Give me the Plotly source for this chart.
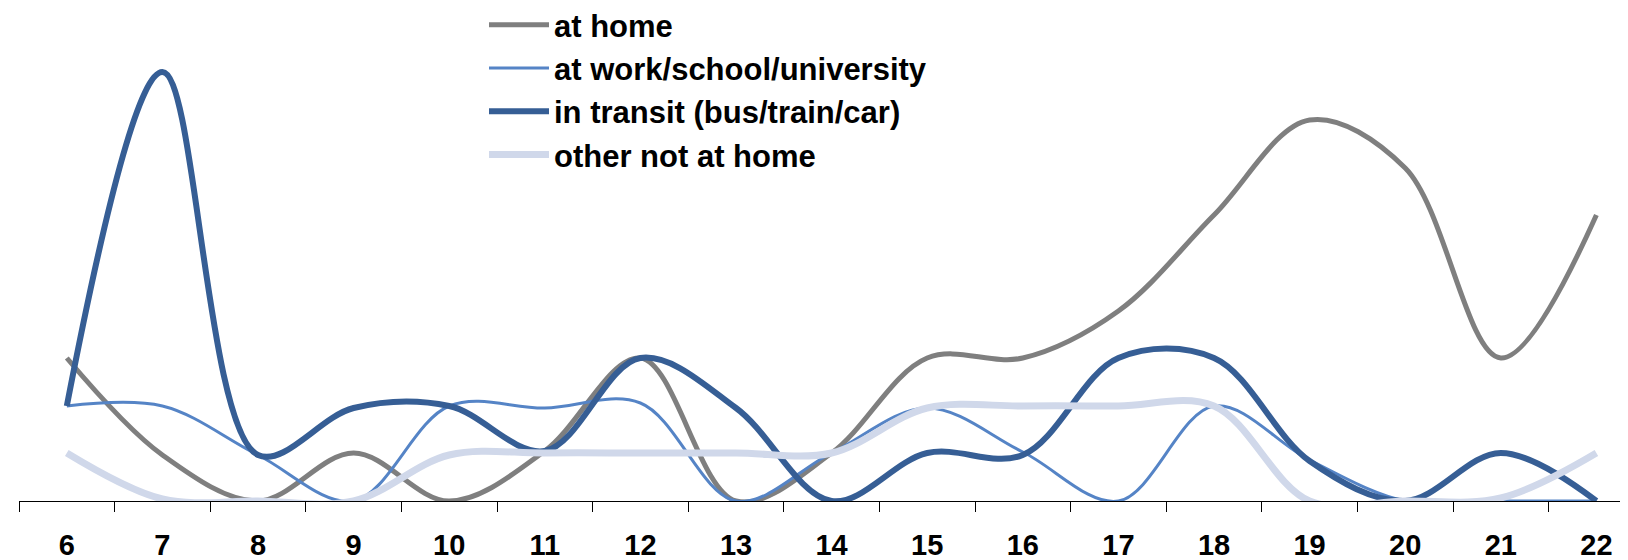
import plotly.graph_objects as go

hours = list(range(6, 23))
tick_labels = [str(h) for h in hours]

at_home = [14.3, 4.6, 0.0, 4.8, 0.0, 5.0, 14.3, 0.0, 4.8, 14.3, 14.3, 19.0, 28.6, 38.1, 33.3, 14.3, 28.6]
at_work = [9.5, 9.5, 4.6, 0.0, 9.5, 9.3, 9.8, 0.0, 4.8, 9.3, 4.9, 0.0, 9.5, 4.1, 0.0, 0.0, 0.0]
in_transit = [9.5, 42.9, 4.6, 9.3, 9.5, 5.0, 14.3, 9.3, 0.0, 4.8, 4.6, 14.3, 14.3, 4.0, 0.0, 4.8, 0.0]
other = [4.8, 0.2, 0.0, 0.0, 4.6, 4.8, 4.8, 4.8, 4.8, 9.3, 9.5, 9.5, 9.5, 0.0, 0.0, 0.3, 4.8]

series = [
    ("at home", at_home, "#7f7f7f", 5),
    ("at work/school/university", at_work, "#5584c6", 3),
    ("in transit (bus/train/car)", in_transit, "#365e95", 6),
    ("other not at home", other, "#d0d8ea", 7),
]

fig = go.Figure()
for i, (name, vals, color, w) in enumerate(series):
    fig.add_trace(go.Scatter(
        x=hours, y=vals, name=name, mode="lines",
        line=dict(color=color, width=w, shape="spline", smoothing=1),
        legendgroup=f"g{i}",
    ))

W, H = 1628, 560
left, top, bottom = 11, 0, 67
plot_w = W - left
plot_h = H - top - bottom
px_per_hour = 95.6
x_max = 5.5 + plot_w / px_per_hour

fig.update_layout(
    width=W, height=H,
    margin=dict(l=left, r=0, t=top, b=bottom, autoexpand=False),
    paper_bgcolor="white", plot_bgcolor="white",
    showlegend=True,
    legend=dict(
        x=(476 - left) / plot_w, xanchor="left",
        y=1 + 10 / plot_h, yanchor="top",
        font=dict(family="Liberation Sans", size=31, color="black", weight="bold"),
        tracegroupgap=0, itemwidth=60, bgcolor="rgba(0,0,0,0)",
    ),
    xaxis=dict(
        range=[5.5, x_max], showgrid=False, zeroline=False,
        showline=True, linecolor="black", linewidth=1,
        tickmode="array", tickvals=hours, ticktext=tick_labels, ticks="",
        tickfont=dict(family="Liberation Sans", size=29, color="black", weight="bold"),
        ticklabelstandoff=18, automargin=False,
        minor=dict(tickmode="array", tickvals=[h - 0.5 for h in hours],
                   ticks="outside", ticklen=10, tickcolor="black", tickwidth=1, showgrid=False),
    ),
    yaxis=dict(range=[0, plot_h / 10], visible=False, showgrid=False, zeroline=False),
)

fig.write_html("out.html")
